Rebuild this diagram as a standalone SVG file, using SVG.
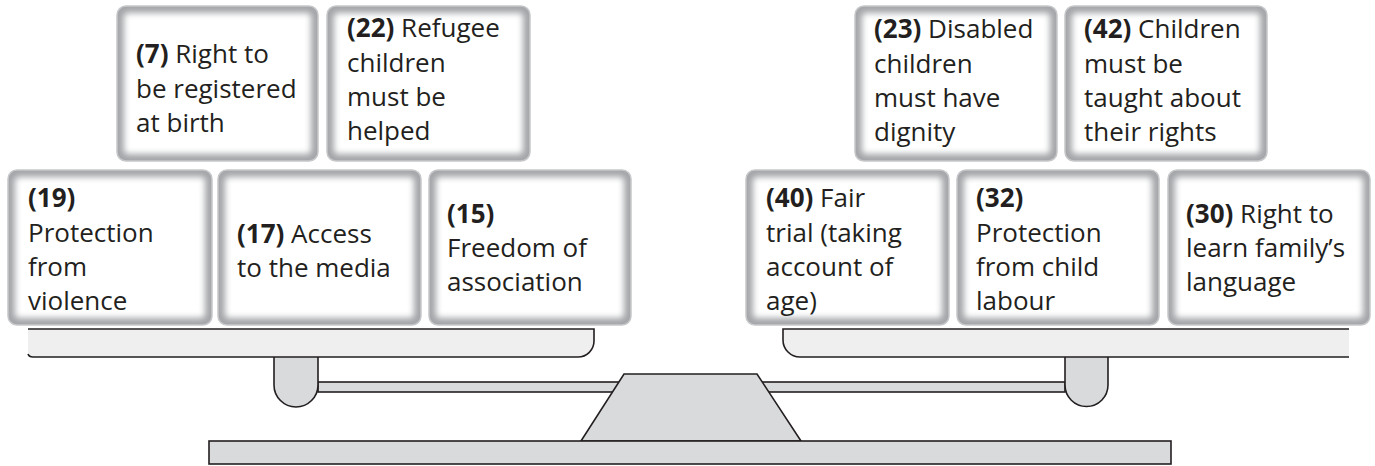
<svg xmlns="http://www.w3.org/2000/svg" width="1375" height="466" viewBox="0 0 1375 466">
<style>
.frame{fill:#a3a5a8;stroke:#c6c7c9;stroke-width:1.5}
.inner{fill:#ffffff;filter:url(#soft)}
.t{font-family:"Open Sans","Noto Sans",sans-serif;font-size:26px;fill:#231f20}
.b{font-weight:700}
.ln{stroke:#231f20;stroke-width:1.6;fill:none}
.post{fill:#d9dadc;stroke:#231f20;stroke-width:1.6}
.pan{fill:#efefef}
</style>
<defs>
<filter id="soft" x="-10%" y="-10%" width="120%" height="120%"><feGaussianBlur stdDeviation="3.2"/></filter>
</defs>

<g id="scale">
  <rect x="318" y="382" width="747" height="10" class="post"/>
  <path class="post" d="M274,357 V385 A22,22 0 0 0 318,385 V357"/>
  <path class="post" d="M1065,357 V385 A21.5,21.5 0 0 0 1108,385 V357"/>
  <path class="pan" d="M28,329 H594 V341 A16,16 0 0 1 578,357 H28 Z"/>
  <path class="ln" d="M28,329 H594 V341 A16,16 0 0 1 578,357 H33 Q29,357 28,354"/>
  <path class="pan" d="M1349,329 H783 V340 A17,17 0 0 0 800,357 H1349 Z"/>
  <path class="ln" d="M1349,329 H783 V340 A17,17 0 0 0 800,357 H1349"/>
  <polygon class="post" points="624,374 757,374 801,441 581,441"/>
  <rect x="209" y="441" width="962" height="23" class="post"/>
</g>

<g id="n7">
  <rect class="frame" x="117" y="6" width="201" height="155" rx="9"/>
  <rect class="inner" x="124" y="13" width="187" height="141" rx="4"/>
  <text class="t" x="136"><tspan y="63"><tspan class="b">(7)</tspan> Right to</tspan><tspan x="136" y="98">be registered</tspan><tspan x="136" y="132">at birth</tspan></text>
</g>
<g id="n22">
  <rect class="frame" x="327" y="6" width="203" height="155" rx="9"/>
  <rect class="inner" x="334" y="13" width="189" height="141" rx="4"/>
  <text class="t" x="347"><tspan y="37"><tspan class="b">(22)</tspan> Refugee</tspan><tspan x="347" y="72">children</tspan><tspan x="347" y="106">must be</tspan><tspan x="347" y="140">helped</tspan></text>
</g>
<g id="n19">
  <rect class="frame" x="8" y="170" width="204" height="155" rx="9"/>
  <rect class="inner" x="15" y="177" width="190" height="141" rx="4"/>
  <text class="t" x="28"><tspan y="207" class="b">(19)</tspan><tspan x="28" y="242">Protection</tspan><tspan x="28" y="276">from</tspan><tspan x="28" y="310">violence</tspan></text>
</g>
<g id="n17">
  <rect class="frame" x="218" y="170" width="203" height="155" rx="9"/>
  <rect class="inner" x="225" y="177" width="189" height="141" rx="4"/>
  <text class="t" x="237"><tspan y="243"><tspan class="b">(17)</tspan> Access</tspan><tspan x="237" y="277">to the media</tspan></text>
</g>
<g id="n15">
  <rect class="frame" x="429" y="170" width="202" height="155" rx="9"/>
  <rect class="inner" x="436" y="177" width="188" height="141" rx="4"/>
  <text class="t" x="447"><tspan y="223" class="b">(15)</tspan><tspan x="447" y="257">Freedom of</tspan><tspan x="447" y="291">association</tspan></text>
</g>
<g id="n23">
  <rect class="frame" x="855" y="6" width="202" height="155" rx="9"/>
  <rect class="inner" x="862" y="13" width="188" height="141" rx="4"/>
  <text class="t" x="874"><tspan y="38"><tspan class="b">(23)</tspan> Disabled</tspan><tspan x="874" y="73">children</tspan><tspan x="874" y="107">must have</tspan><tspan x="874" y="141">dignity</tspan></text>
</g>
<g id="n42">
  <rect class="frame" x="1065" y="6" width="202" height="155" rx="9"/>
  <rect class="inner" x="1072" y="13" width="188" height="141" rx="4"/>
  <text class="t" x="1084"><tspan y="38"><tspan class="b">(42)</tspan> Children</tspan><tspan x="1084" y="73">must be</tspan><tspan x="1084" y="107">taught about</tspan><tspan x="1084" y="141">their rights</tspan></text>
</g>
<g id="n40">
  <rect class="frame" x="746" y="170" width="203" height="155" rx="9"/>
  <rect class="inner" x="753" y="177" width="189" height="141" rx="4"/>
  <text class="t" x="766"><tspan y="207"><tspan class="b">(40)</tspan> Fair</tspan><tspan x="766" y="242">trial (taking</tspan><tspan x="766" y="276">account of</tspan><tspan x="766" y="310">age)</tspan></text>
</g>
<g id="n32">
  <rect class="frame" x="957" y="170" width="202" height="155" rx="9"/>
  <rect class="inner" x="964" y="177" width="188" height="141" rx="4"/>
  <text class="t" x="976"><tspan y="207" class="b">(32)</tspan><tspan x="976" y="242">Protection</tspan><tspan x="976" y="276">from child</tspan><tspan x="976" y="310">labour</tspan></text>
</g>
<g id="n30">
  <rect class="frame" x="1168" y="170" width="202" height="155" rx="9"/>
  <rect class="inner" x="1175" y="177" width="188" height="141" rx="4"/>
  <text class="t" x="1186"><tspan y="223"><tspan class="b">(30)</tspan> Right to</tspan><tspan x="1186" y="257">learn family’s</tspan><tspan x="1186" y="291">language</tspan></text>
</g>
<g id="connectors"></g>
</svg>
